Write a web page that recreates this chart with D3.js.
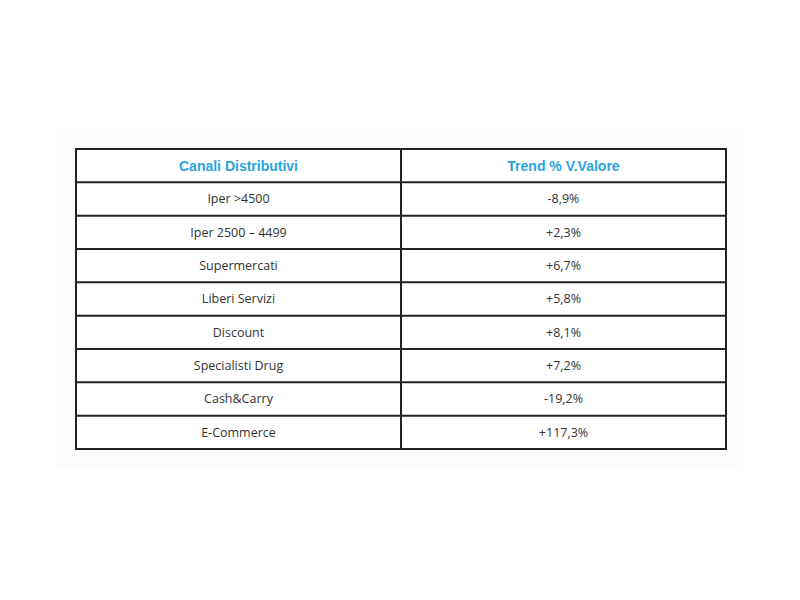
<!DOCTYPE html>
<html>
<head>
<meta charset="utf-8">
<script src="https://cdnjs.cloudflare.com/ajax/libs/d3/7.8.5/d3.min.js"></script>
<style>
  body { margin: 0; background: #fff; }
</style>
</head>
<body>
<div id="table"></div>
<script>
// table content
let headers = ["Canali Distributivi", "Trend % V.Valore"];
let channels = ["Iper >4500", "Iper 2500 – 4499", "Supermercati", "Liberi Servizi",
  "Discount", "Specialisti Drug", "Cash&Carry", "E-Commerce"];
let trends = ["-8,9%", "+2,3%", "+6,7%", "+5,8%", "+8,1%", "+7,2%", "-19,2%", "+117,3%"];

let svgWidth = 800;
let svgHeight = 600;

// outer box of the table
let margin = { top: 149, right: 74, bottom: 151, left: 76 };

let svg = d3.select("#table")
  .append("svg")
  .attr("width", svgWidth)
  .attr("height", svgHeight);

let width = svgWidth - margin.left - margin.right,
  height = svgHeight - margin.top - margin.bottom;

// faint backdrop behind the table
svg.append("rect")
  .attr("x", 56)
  .attr("y", 129)
  .attr("width", 687)
  .attr("height", 341)
  .attr("fill", "#fcfcfc");

let chartGroup = svg.append("g")
  .attr("transform", `translate(${margin.left}, ${margin.top})`);

// rows: header + one per channel
let rowKeys = ["header"].concat(channels);
let y = d3.scaleBand()
  .domain(rowKeys)
  .range([0, height]);

// two columns, the first a little wider
let x = d3.scaleLinear()
  .domain([0, 1, 2])
  .range([0, 325, width]);

let rows = rowKeys.map(function (k, i) {
  if (i == 0) return { key: k, cells: headers, head: true };
  return { key: k, cells: [channels[i - 1], trends[i - 1]], head: false };
});

let rowG = chartGroup.selectAll(".row")
  .data(rows)
  .enter()
  .append("g")
  .attr("class", "row")
  .attr("transform", d => `translate(0,${y(d.key)})`);

rowG.append("rect")
  .attr("width", width)
  .attr("height", y.bandwidth())
  .attr("fill", "#fff");

rowG.selectAll("text")
  .data(d => d.cells.map(c => ({ text: c, head: d.head })))
  .enter()
  .append("text")
  .attr("x", (d, i) => (x(i) + x(i + 1)) / 2)
  .attr("y", y.bandwidth() / 2)
  .attr("dy", "0.35em")
  .attr("text-anchor", "middle")
  .attr("font-family", d => d.head ? "'Liberation Sans', Arial, sans-serif" : "'Open Sans', 'Noto Sans', sans-serif")
  .attr("font-size", d => d.head ? "14px" : "12.5px")
  .attr("font-weight", d => d.head ? "bold" : "normal")
  .attr("fill", d => d.head ? "#2aa4e2" : "#333")
  .text(d => d.text);

// horizontal grid lines
chartGroup.selectAll(".hline")
  .data(rowKeys.slice(1))
  .enter()
  .append("line")
  .attr("x1", 0)
  .attr("x2", width)
  .attr("y1", d => y(d))
  .attr("y2", d => y(d))
  .attr("stroke", "#222")
  .attr("stroke-width", 2);

// column divider
chartGroup.append("line")
  .attr("x1", x(1))
  .attr("x2", x(1))
  .attr("y1", 0)
  .attr("y2", height)
  .attr("stroke", "#222")
  .attr("stroke-width", 2);

// outer border
chartGroup.append("rect")
  .attr("width", width)
  .attr("height", height)
  .attr("fill", "none")
  .attr("stroke", "#222")
  .attr("stroke-width", 2);
</script>
</body>
</html>
